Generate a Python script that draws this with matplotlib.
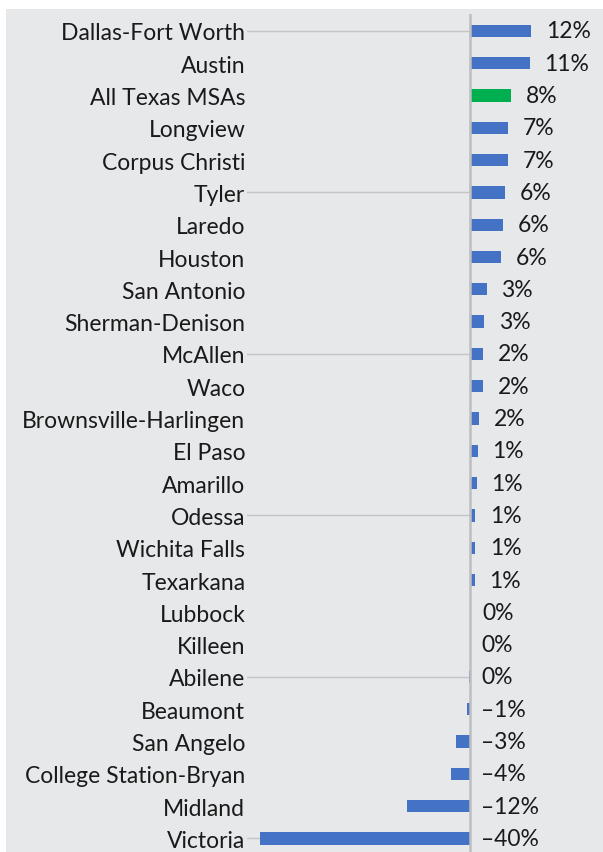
import matplotlib.pyplot as plt
from matplotlib.patches import Rectangle

metros = [
    "Dallas-Fort Worth", "Austin", "All Texas MSAs", "Longview", "Corpus Christi",
    "Tyler", "Laredo", "Houston", "San Antonio", "Sherman-Denison",
    "McAllen", "Waco", "Brownsville-Harlingen", "El Paso", "Amarillo",
    "Odessa", "Wichita Falls", "Texarkana", "Lubbock", "Killeen",
    "Abilene", "Beaumont", "San Angelo", "College Station-Bryan", "Midland",
    "Victoria",
]
change_pct = [
    11.6, 11.4, 7.8, 7.2, 7.2,
    6.7, 6.3, 5.9, 3.2, 2.7,
    2.5, 2.5, 1.7, 1.5, 1.3,
    1.0, 1.0, 0.9, 0.2, -0.1,
    -0.2, -0.6, -2.6, -3.6, -12.0,
    -40.0,
]
value_labels = [
    "12%", "11%", "8%", "7%", "7%",
    "6%", "6%", "6%", "3%", "3%",
    "2%", "2%", "2%", "1%", "1%",
    "1%", "1%", "1%", "0%", "0%",
    "0%", "\u20131%", "\u20133%", "\u20134%", "\u201312%",
    "\u201340%",
]
highlight = "All Texas MSAs"

BG = "#e7e8ea"
BLUE = "#4472c4"
GREEN = "#00b050"
GRID = "#c3c4c6"

plt.rcParams["font.family"] = ["Lato", "DejaVu Sans"]

fig = plt.figure(figsize=(6.03, 8.53), dpi=100)
fig.patch.set_facecolor("white")
fig.add_artist(Rectangle((6 / 603, 0), 1 - 6 / 603, 1 - 10 / 853,
                         transform=fig.transFigure, facecolor=BG,
                         edgecolor="none", zorder=0))

ax = fig.add_axes([255 / 603, 0, 348 / 603, 1 - 15 / 853])
ax.set_facecolor("none")

rows = list(range(len(metros)))
colors = [GREEN if m == highlight else BLUE for m in metros]
ax.barh(rows, change_pct, height=0.38, color=colors, zorder=3)

ax.set_xlim(-40.95, 25.3)
ax.set_ylim(25.42, -0.524)

# zero line
ax.axvline(0, color="#bdbec0", linewidth=1.8, zorder=4)

# light guide lines every fifth row, left of zero
guide_rows = rows[::5]
for r in guide_rows:
    ax.plot([-51, 0], [r, r], color=GRID, linewidth=1.0,
            clip_on=False, zorder=1)

for r, v, lab in zip(rows, change_pct, value_labels):
    off = 10.5 if v > 0.5 else 8
    ax.annotate(lab, (max(v, 0), r), xytext=(off, 0),
                textcoords="offset points", va="center", ha="left",
                fontsize=16.5, color="#1a1a1a", zorder=5)

ax.set_yticks(rows)
ax.set_yticklabels(metros, fontsize=16.5, color="#1a1a1a")
# labels on guide rows mask the guide line behind them
for r, t in zip(rows, ax.get_yticklabels()):
    if r in guide_rows:
        t.set_bbox(dict(facecolor=BG, edgecolor="none", pad=1.5))
ax.tick_params(axis="y", length=0, pad=7)
ax.set_xticks([])
for s in ax.spines.values():
    s.set_visible(False)

fig.savefig("out.png", dpi=100)
